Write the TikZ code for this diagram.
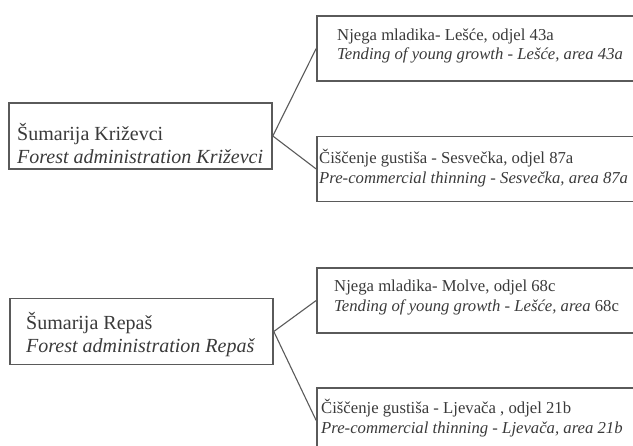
\documentclass[tikz,border=0pt]{standalone}
\usepackage{fontspec}
\setmainfont{Liberation Serif}
\usepackage{xcolor}
\definecolor{inkgray}{HTML}{3A3A3A}
\definecolor{framegray}{HTML}{5A5A5A}

\begin{document}
\begin{tikzpicture}[
    x=1pt, y=-1pt,
    adminbox/.style={draw=framegray, line width=1.6pt, minimum width=263pt, minimum height=66pt, inner sep=0pt},
    workbox/.style={draw=framegray, line width=1.6pt, minimum width=400pt, minimum height=65pt, inner sep=0pt},
    admintext/.style={anchor=west, align=left, inner sep=0pt, text=inkgray, font=\fontsize{20}{23}\selectfont},
    worktext/.style={anchor=west, align=left, inner sep=0pt, text=inkgray, font=\fontsize{16.7}{19.5}\selectfont},
    link/.style={draw=framegray, line width=1.1pt}
]
\useasboundingbox (0,0) rectangle (633,446);
% Krizevci
\node[adminbox] (krz) at (140.5,136) {};
\node[admintext] (krztxt) at (17,144) {Šumarija Križevci\\\textit{Forest administration Križevci}};
\node[workbox] (lesce) at (517,48.5) {};
\node[worktext] (lescetxt) at (337,46) {Njega mladika- Lešće, odjel 43a\\\textit{Tending of young growth - Lešće, area 43a}};
\node[workbox] (sesv) at (517,169) {};
\node[worktext] (sesvtxt) at (319,168) {Čiščenje gustiša - Sesvečka, odjel 87a\\\textit{Pre-commercial thinning - Sesvečka, area 87a}};
% Repas
\node[adminbox] (rep) at (141.5,331.5) {};
\node[admintext] (reptxt) at (26,335) {Šumarija Repaš\\\textit{Forest administration Repaš}};
\node[workbox] (molve) at (517,300.5) {};
\node[worktext] (molvetxt) at (334,297.5) {Njega mladika- Molve, odjel 68c\\\textit{Tending of young growth - Lešće, area} 68c};
\node[workbox] (ljev) at (517,420.5) {};
\node[worktext] (ljevtxt) at (321,418) {Čiščenje gustiša - Ljevača , odjel 21b\\\textit{Pre-commercial thinning - Ljevača, area 21b}};
\draw[link] (krz.east) -- (lesce.west);
\draw[link] (krz.east) -- (sesv.west);
\draw[link] (rep.east) -- (molve.west);
\draw[link] (rep.east) -- (ljev.west);
\end{tikzpicture}
\end{document}
